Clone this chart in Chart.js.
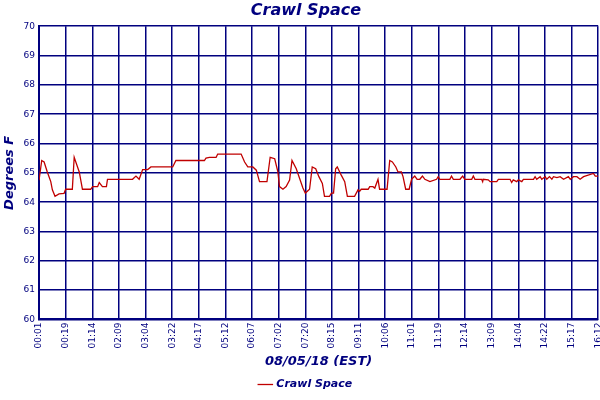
<!DOCTYPE html>
<html>
<head>
<meta charset="utf-8">
<script src="https://cdn.jsdelivr.net/npm/chart.js@4"></script>
<style>
  body { margin: 0; background: #fff; overflow: hidden; }
  #wrap { width: 612px; height: 400px; }
</style>
</head>
<body>
<div id="wrap"><canvas id="chart"></canvas></div>
<script>
// tick labels, one per grid interval
const timeLabels = ["00:01", "00:19", "01:14", "02:09", "03:04", "03:22", "04:17", "05:12",
  "06:07", "07:02", "07:20", "08:15", "09:11", "10:06", "11:01", "11:19", "12:14",
  "13:09", "14:04", "14:22", "15:17", "16:12"];

// readings: position along the axis (in label intervals) and temperature
const readingPos = [0, .10, .19, .31, .44, .50, .60, .75, .94, 1.00, 1.25, 1.32, 1.51, 1.63,
  1.94, 2.01, 2.20, 2.26, 2.38, 2.53, 2.57, 3.51, 3.64, 3.76, 3.89, 4.08, 4.20, 5.02, 5.14,
  6.21, 6.27, 6.40, 6.65, 6.71, 7.59, 7.72, 7.84, 8.03, 8.16, 8.28, 8.56, 8.68, 8.85, 8.97,
  9.03, 9.16, 9.28, 9.41, 9.50, 9.66, 9.91, 10.00, 10.16, 10.26, 10.39, 10.51, 10.64, 10.72,
  10.91, 10.98, 11.06, 11.14, 11.20, 11.35, 11.48, 11.58, 11.85, 11.98, 12.04, 12.10, 12.36,
  12.42, 12.54, 12.61, 12.73, 12.79, 13.07, 13.17, 13.27, 13.40, 13.48, 13.61, 13.67, 13.77,
  13.90, 13.99, 14.11, 14.20, 14.30, 14.40, 14.49, 14.68, 14.93, 14.99, 15.05, 15.43, 15.49,
  15.56, 15.81, 15.91, 15.99, 16.25, 16.31, 16.37, 16.62, 16.66, 16.68, 16.87, 16.94, 17.19,
  17.25, 17.69, 17.75, 17.81, 17.94, 18.00, 18.13, 18.19, 18.57, 18.63, 18.69, 18.82, 18.88,
  19.01, 19.07, 19.17, 19.26, 19.32, 19.45, 19.57, 19.70, 19.88, 19.95, 20.07, 20.20, 20.32,
  20.45, 20.82, 20.89, 21.00];
const readingTemp = [64.75, 65.42, 65.37, 65.03, 64.70, 64.42, 64.20, 64.28, 64.30, 64.44,
  64.44, 65.53, 65.03, 64.44, 64.44, 64.53, 64.53, 64.67, 64.53, 64.53, 64.78, 64.78, 64.89,
  64.78, 65.11, 65.11, 65.20, 65.20, 65.42, 65.42, 65.50, 65.53, 65.53, 65.64, 65.64, 65.37,
  65.20, 65.20, 65.09, 64.70, 64.70, 65.53, 65.48, 65.03, 64.53, 64.44, 64.53, 64.75, 65.42,
  65.14, 64.48, 64.31, 64.44, 65.20, 65.14, 64.87, 64.64, 64.20, 64.20, 64.31, 64.31, 65.14,
  65.20, 64.92, 64.70, 64.20, 64.20, 64.42, 64.37, 64.44, 64.44, 64.53, 64.53, 64.48, 64.78,
  64.44, 64.44, 65.42, 65.37, 65.20, 65.03, 65.03, 64.87, 64.44, 64.44, 64.78, 64.89, 64.78,
  64.78, 64.89, 64.78, 64.70, 64.78, 64.87, 64.78, 64.78, 64.89, 64.78, 64.78, 64.89, 64.78,
  64.78, 64.89, 64.78, 64.78, 64.70, 64.78, 64.76, 64.70, 64.70, 64.78, 64.78, 64.67, 64.76,
  64.70, 64.76, 64.70, 64.78, 64.78, 64.87, 64.78, 64.87, 64.78, 64.87, 64.78, 64.87, 64.78,
  64.87, 64.84, 64.87, 64.78, 64.87, 64.78, 64.87, 64.87, 64.78, 64.87, 64.98, 64.89, 64.89];

const navy = "#00007f";
const font = "'DejaVu Sans', sans-serif";

const points = readingPos.map((p, i) => ({ x: p, y: readingTemp[i] }));

new Chart(document.getElementById("chart"), {
  type: "scatter",
  data: {
    datasets: [{
      label: "Crawl Space",
      data: points,
      showLine: true,
      borderColor: "#c00000",
      backgroundColor: "#c00000",
      borderWidth: 1.3,
      pointRadius: 0,
      tension: 0,
    }],
  },
  options: {
    responsive: true,
    maintainAspectRatio: false,
    animation: false,
    layout: { padding: { top: 1, right: 0, left: 0, bottom: 0 } },
    plugins: {
      title: {
        display: true,
        text: "Crawl Space",
        color: navy,
        font: { family: font, size: 16, style: "italic", weight: "bold" },
        padding: { top: 0, bottom: 6 },
      },
      legend: {
        position: "bottom",
        labels: {
          color: navy,
          usePointStyle: true,
          pointStyle: "line",
          boxWidth: 16,
          font: { family: font, size: 11, style: "italic", weight: "bold" },
          padding: 4,
        },
      },
      tooltip: { enabled: false },
    },
    scales: {
      x: {
        type: "linear",
        min: 0,
        max: 21,
        afterBuildTicks: (axis) => {
          axis.ticks = timeLabels.map((_, i) => ({ value: i }));
        },
        ticks: {
          color: navy,
          minRotation: 90,
          maxRotation: 90,
          autoSkip: false,
          padding: 3,
          font: { family: font, size: 9 },
          callback: (v) => timeLabels[v],
        },
        grid: { color: navy, lineWidth: 1.5, drawTicks: false },
        border: { color: navy, width: 2 },
        title: {
          display: true,
          text: "08/05/18 (EST)",
          color: navy,
          font: { family: font, size: 13, style: "italic", weight: "bold" },
          padding: { top: 2, bottom: 6 },
        },
      },
      y: {
        min: 60,
        max: 70,
        ticks: {
          stepSize: 1,
          color: navy,
          padding: 4,
          font: { family: font, size: 9 },
        },
        grid: { color: navy, lineWidth: 1.5, drawTicks: false },
        border: { color: navy, width: 2 },
        title: {
          display: true,
          text: "Degrees F",
          color: navy,
          font: { family: font, size: 13, style: "italic", weight: "bold" },
          padding: 2,
        },
      },
    },
  },
});
</script>
</body>
</html>
